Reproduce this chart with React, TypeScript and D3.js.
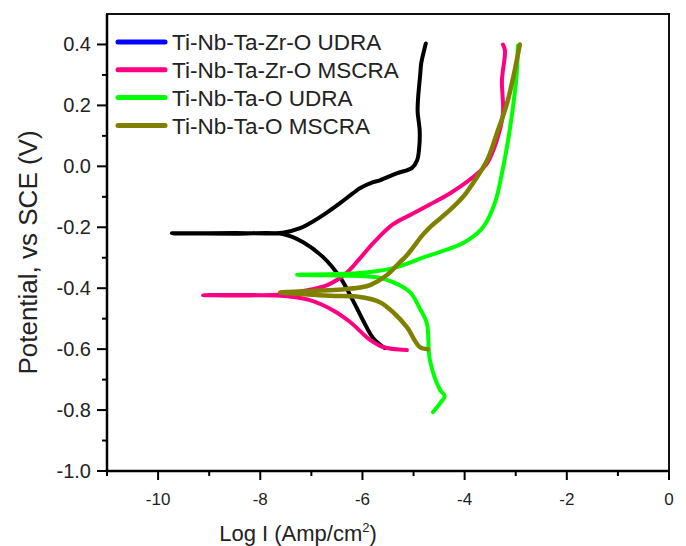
import React from "react";
import * as d3 from "d3";

const W = 686;
const H = 546;
const margin = { left: 107, right: 17, top: 14, bottom: 75 };

const seriesNames = [
  "Ti-Nb-Ta-Zr-O UDRA",
  "Ti-Nb-Ta-Zr-O MSCRA",
  "Ti-Nb-Ta-O UDRA",
  "Ti-Nb-Ta-O MSCRA",
];
const legendColors = ["#0000ff", "#ff0080", "#00ff00", "#808000"];
const lineColors = ["#000000", "#ff0080", "#00ff00", "#808000"];

const xMajorTicks = [-10, -8, -6, -4, -2, 0];
const xMinorTicks = [-11, -9, -7, -5, -3, -1];
const yMajorTicks = [-1.0, -0.8, -0.6, -0.4, -0.2, 0.0, 0.2, 0.4];
const yMinorTicks = [-0.9, -0.7, -0.5, -0.3, -0.1, 0.1, 0.3];

// Ti-Nb-Ta-Zr-O UDRA: cathodic branch -> corrosion potential tail -> anodic branch
const zrUdraLogI = [
  -5.56, -5.79, -5.99, -6.19, -6.44, -6.77, -7.16, -7.56, -8.5, -9.73, -8.5, -7.56,
  -7.22, -7.03, -6.69, -6.44, -6.19, -6.05, -5.79, -5.66, -5.33, -5.03, -4.93, -4.89,
  -4.88, -4.92, -4.91, -4.87, -4.85, -4.78, -4.76,
];
const zrUdraPotential = [
  -0.597, -0.564, -0.505, -0.439, -0.364, -0.298, -0.249, -0.222, -0.221, -0.22, -0.219, -0.218,
  -0.203, -0.187, -0.151, -0.121, -0.089, -0.072, -0.052, -0.046, -0.023, -0.005, 0.02, 0.06,
  0.118, 0.18, 0.226, 0.3, 0.338, 0.39, 0.403,
];

// Ti-Nb-Ta-Zr-O MSCRA
const zrMscraLogI = [
  -5.13, -5.6, -5.85, -6.24, -6.58, -7.03, -7.61, -8.5, -9.12, -8.5, -7.61, -7.03,
  -6.69, -6.3, -6.05, -5.79, -5.4, -5.01, -4.68, -4.29, -3.84, -3.56, -3.37, -3.25,
  -3.27, -3.21, -3.25,
];
const zrMscraPotential = [
  -0.603, -0.593, -0.57, -0.511, -0.472, -0.439, -0.425, -0.424, -0.423, -0.422, -0.421, -0.405,
  -0.39, -0.348, -0.302, -0.252, -0.19, -0.155, -0.125, -0.089, -0.036, 0.01, 0.085, 0.174,
  0.282, 0.38, 0.4,
];

// Ti-Nb-Ta-O UDRA
const taUdraLogI = [
  -4.62, -4.48, -4.39, -4.48, -4.68, -4.74, -4.88, -5.07, -5.4, -5.72, -6.05, -7.28,
  -6.05, -5.4, -4.74, -4.03, -3.64, -3.41, -3.27, -3.15, -3.07, -2.98, -2.96,
];
const taUdraPotential = [
  -0.807, -0.777, -0.754, -0.734, -0.636, -0.515, -0.466, -0.413, -0.38, -0.364, -0.36, -0.356,
  -0.35, -0.334, -0.295, -0.252, -0.2, -0.121, -0.023, 0.085, 0.174, 0.305, 0.396,
];

// Ti-Nb-Ta-O MSCRA
const taMscraLogI = [
  -4.72, -4.88, -5.13, -5.4, -5.66, -6.05, -6.64, -7.2, -7.61, -7.0, -6.4, -6.05,
  -5.85, -5.52, -5.27, -5.13, -4.82, -4.68, -4.29, -4.03, -3.84, -3.56, -3.37, -3.17,
  -3.02, -2.92,
];
const taMscraPotential = [
  -0.6, -0.593, -0.528, -0.479, -0.446, -0.429, -0.425, -0.419, -0.414, -0.409, -0.404, -0.398,
  -0.39, -0.357, -0.315, -0.292, -0.225, -0.2, -0.144, -0.1, -0.056, 0.02, 0.108, 0.207,
  0.315, 0.4,
];

const seriesLogI = [zrUdraLogI, zrMscraLogI, taUdraLogI, taMscraLogI];
const seriesPotential = [zrUdraPotential, zrMscraPotential, taUdraPotential, taMscraPotential];

const FONT = "'Liberation Sans', Arial, sans-serif";

export default function App() {
  const x = d3.scaleLinear().domain([-11, 0]).range([margin.left, W - margin.right]);
  const y = d3.scaleLinear().domain([-1.0, 0.5]).range([H - margin.bottom, margin.top]);

  const line = d3
    .line<[number, number]>()
    .x((d) => x(d[0]))
    .y((d) => y(d[1]))
    .curve(d3.curveCatmullRom.alpha(0.5));

  const x0 = x(-11);
  const x1 = x(0);
  const yb = y(-1.0);
  const yt = y(0.5);
  const fmtY = (v: number) => v.toFixed(1);

  return (
    <svg width={W} height={H} style={{ display: "block", position: "absolute", left: 0, top: 0 }}>
      <rect width={W} height={H} fill="#ffffff" />

      {/* curves */}
      <g fill="none" strokeLinecap="round" strokeLinejoin="round">
        {seriesLogI.map((xs, i) => (
          <path
            key={i}
            d={line(xs.map((v, j) => [v, seriesPotential[i][j]] as [number, number])) || ""}
            stroke={lineColors[i]}
            strokeWidth={i === 3 ? 4.5 : 4}
          />
        ))}
      </g>

      {/* frame */}
      <rect x={x0} y={yt} width={x1 - x0} height={yb - yt} fill="none" stroke="#111" strokeWidth={2} />
      <line x1={x0} x2={x0} y1={yt} y2={yb + 1} stroke="#000" strokeWidth={2.5} />
      <line x1={x0 - 1} x2={x1} y1={yb} y2={yb} stroke="#000" strokeWidth={2.5} />

      {/* ticks */}
      <g stroke="#000" strokeWidth={2}>
        {xMajorTicks.map((t) => (
          <line key={"xM" + t} x1={x(t)} x2={x(t)} y1={yb} y2={yb + 9} />
        ))}
        {xMinorTicks.map((t) => (
          <line key={"xm" + t} x1={x(t)} x2={x(t)} y1={yb} y2={yb + 5} />
        ))}
        {yMajorTicks.map((t) => (
          <line key={"yM" + t} x1={x0 - 10} x2={x0} y1={y(t)} y2={y(t)} />
        ))}
        {yMinorTicks.map((t) => (
          <line key={"ym" + t} x1={x0 - 5} x2={x0} y1={y(t)} y2={y(t)} />
        ))}
      </g>

      <g fontFamily={FONT} fill="#222">
        {xMajorTicks.map((t) => (
          <text key={"xl" + t} x={x(t)} y={505} fontSize={17} textAnchor="middle">
            {String(t)}
          </text>
        ))}
        {yMajorTicks.map((t) => (
          <text key={"yl" + t} x={91} y={y(t)} dy="0.35em" fontSize={20} textAnchor="end">
            {fmtY(t)}
          </text>
        ))}
        <text x={298} y={541} fontSize={22} textAnchor="middle">
          Log I (Amp/cm<tspan dy={-9} fontSize={13}>2</tspan>
          <tspan dy={9}>)</tspan>
        </text>
        <text
          transform={`translate(37, ${(yb + yt) / 2 + 10}) rotate(-90)`}
          fontSize={26}
          textAnchor="middle"
        >
          Potential, vs SCE (V)
        </text>
      </g>

      {/* legend */}
      <g fontFamily={FONT}>
        {seriesNames.map((name, i) => {
          const ly = 42 + i * 27.8;
          return (
            <g key={name}>
              <line x1={118} x2={165} y1={ly} y2={ly} stroke={legendColors[i]} strokeWidth={5} strokeLinecap="round" />
              <text x={172} y={ly} dy="0.36em" fontSize={22.5} fill="#222">
                {name}
              </text>
            </g>
          );
        })}
      </g>
    </svg>
  );
}
